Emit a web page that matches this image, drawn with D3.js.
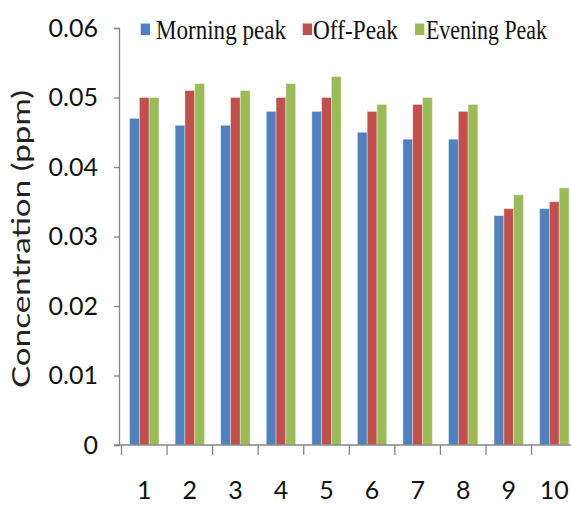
<!DOCTYPE html>
<html><head><meta charset="utf-8">
<script src="https://cdn.jsdelivr.net/npm/d3@7"></script>
<style>body{margin:0;background:#fff}svg{display:block}</style>
</head><body>
<svg id="c" width="571" height="506"></svg>
<script>
const categories = ["1","2","3","4","5","6","7","8","9","10"];
const seriesNames = ["Morning peak","Off-Peak","Evening Peak"];
const morningPeak = [0.047,0.046,0.046,0.048,0.048,0.045,0.044,0.044,0.033,0.034];
const offPeak     = [0.050,0.051,0.050,0.050,0.050,0.048,0.049,0.048,0.034,0.035];
const eveningPeak = [0.050,0.052,0.051,0.052,0.053,0.049,0.050,0.049,0.036,0.037];
const yTicks = [0,0.01,0.02,0.03,0.04,0.05,0.06];
const yTickLabels = ["0","0.01","0.02","0.03","0.04","0.05","0.06"];
const colors = ["#4F81BD","#C0504D","#9BBB59"];

const seriesVals = [morningPeak, offPeak, eveningPeak];
const rows = categories.map((c,i)=>({cat:c, vals: seriesVals.map((s,j)=>({key:seriesNames[j], v:s[i], j}))}));

const svg = d3.select("#c");
const x0 = d3.scaleBand().domain(categories).range([121.5, 121.5+455.6]).padding(0);
const x1 = d3.scaleBand().domain(seriesNames).range([0, x0.bandwidth()]).paddingInner(0).paddingOuter(0.83);
const y = d3.scaleLinear().domain([0,0.06]).range([445,28]);
const axisColor = "#868686";

// bars
const g = svg.append("g");
g.selectAll("g.grp").data(rows).join("g").attr("class","grp")
  .attr("transform", d=>`translate(${x0(d.cat)},0)`)
  .selectAll("rect").data(d=>d.vals).join("rect")
  .attr("x", d=>x1(d.key)).attr("width", x1.bandwidth())
  .attr("y", d=>y(d.v)).attr("height", d=>y(0)-y(d.v))
  .attr("fill", d=>colors[d.j])
  .attr("stroke","rgba(255,255,255,0.45)").attr("stroke-width",0.8);

// y axis
const yAxis = d3.axisLeft(y).tickValues(yTicks).tickFormat((d,i)=>yTickLabels[i]).tickSize(5).tickPadding(16);
const ya = svg.append("g").attr("transform","translate(119,0)").call(yAxis);
ya.select(".domain").attr("stroke",axisColor).attr("stroke-width",1.3);
ya.selectAll(".tick line").attr("stroke",axisColor).attr("stroke-width",1.3);
ya.selectAll(".tick text").attr("fill","#111").style("font-family","Lato, 'Open Sans', sans-serif").style("font-size","25px");

// x axis
const xAxis = d3.axisBottom(x0).tickSize(0).tickPadding(36);
const xa = svg.append("g").attr("transform","translate(0,445)").call(xAxis);
xa.select(".domain").remove();
xa.append("line").attr("x1",114).attr("x2",571).attr("y1",0).attr("y2",0).attr("stroke",axisColor).attr("stroke-width",1.3);
const boundaries = categories.map(c=>x0(c));
xa.selectAll("line.bt").data(boundaries).join("line").attr("class","bt")
  .attr("x1",d=>d).attr("x2",d=>d).attr("y1",0).attr("y2",10)
  .attr("stroke",axisColor).attr("stroke-width",1.3);
xa.selectAll(".tick text").attr("fill","#111").style("font-family","Lato, 'Open Sans', sans-serif").style("font-size","25px");

// y title
svg.append("text").attr("transform","translate(30,239) rotate(-90)")
  .attr("text-anchor","middle").attr("fill","#222")
  .style("font-family","Lato, 'Open Sans', sans-serif").style("font-size","25px")
  .attr("textLength",298).attr("lengthAdjust","spacingAndGlyphs")
  .text("Concentration (ppm)");

// legend
const legendPos = [{sx:140.7, tx:156, w:130},{sx:302.7, tx:313, w:85},{sx:415, tx:426, w:121}];
const lg = svg.append("g");
seriesNames.forEach((n,i)=>{
  const p = legendPos[i];
  lg.append("rect").attr("x",p.sx).attr("y",23.5).attr("width",9.3).attr("height",11.5).attr("fill",colors[i]);
  const t = lg.append("text").attr("x",0).attr("y",0).attr("fill","#111")
    .style("font-family","'Liberation Serif','Times New Roman',serif").style("font-size","27px")
    .text(n);
  const natural = t.node().getComputedTextLength();
  t.attr("transform",`translate(${p.tx},39) scale(${p.w/natural},1)`);
});
</script>
</body></html>
